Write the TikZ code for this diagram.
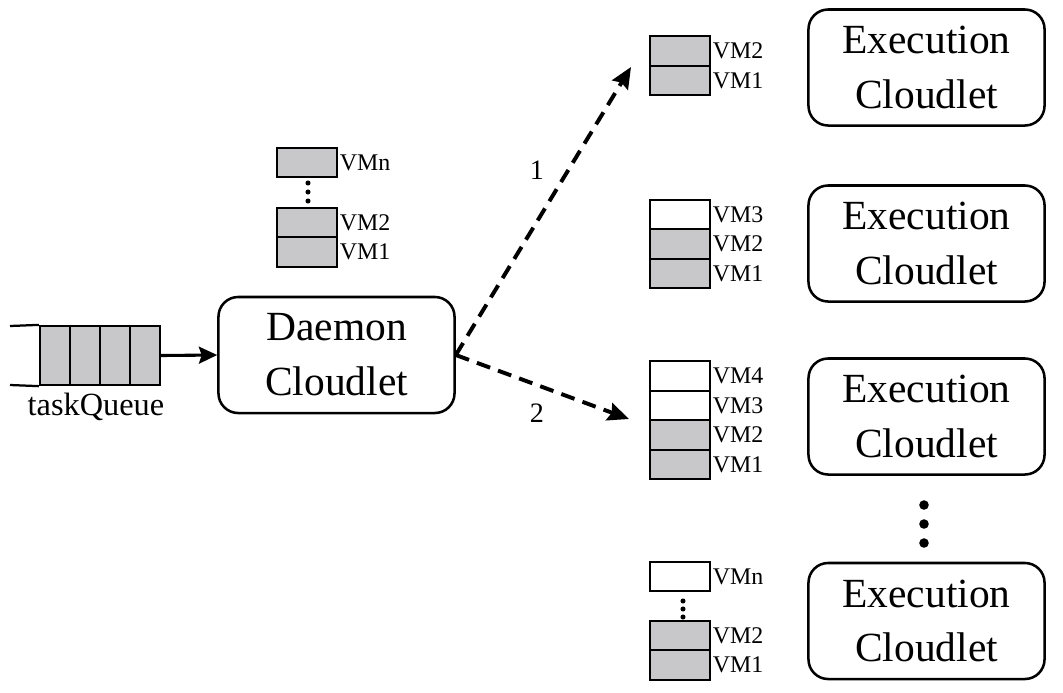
\documentclass[tikz,border=0pt]{standalone}
\usepackage{fontspec}
\setmainfont{Liberation Serif}
\usetikzlibrary{arrows.meta}
\definecolor{vmgray}{RGB}{200,200,202}

\begin{document}
\begin{tikzpicture}[x=0.025cm,y=-0.025cm,
  cloudlet/.style={draw, line width=1.8pt, rounded corners=14pt, minimum width=5.9cm, minimum height=2.9cm, align=center, font=\fontsize{29.5}{39}\selectfont},
  vmbox/.style={draw, line width=1.6pt, fill=vmgray, minimum width=1.5cm, minimum height=0.74cm, inner sep=0pt},
  vmfree/.style={vmbox, fill=white},
  vmtext/.style={font=\fontsize{17}{20}\selectfont, inner sep=1pt},
  cell/.style={draw, line width=1.6pt, fill=vmgray, minimum width=0.75cm, minimum height=1.475cm, inner sep=0pt},
  dispatch/.style={line width=2.8pt, dash pattern=on 10pt off 6pt, -{Stealth[length=15pt,width=13pt,inset=2pt]}}
]
\useasboundingbox (0,0) rectangle (1063,692);
% Task queue
\node[cell] (q1) at (55,355.5) {};
\node[cell] (q2) at (85,355.5) {};
\node[cell] (q3) at (115,355.5) {};
\node[cell] (q4) at (145,355.5) {};
\coordinate (qin1) at (10,326);
\coordinate (qin2) at (10,385);
\draw[line width=1.6pt] (qin1) -- (q1.north west);
\draw[line width=1.6pt] (qin2) -- (q1.south west);
\node[font=\fontsize{23}{28}\selectfont] (qlabel) at (96,407) {taskQueue};
% Daemon cloudlet and its VMs
\node[cloudlet] (daemon) at (336.5,355) {Daemon\\Cloudlet};
\draw[line width=2.2pt, -{Stealth[length=13pt,width=12pt,inset=2pt]}] (q4.east) -- (daemon.west);
\node[vmbox, label={[vmtext]right:VMn}] (d0) at (307,162.5) {};
\node[vmbox, label={[vmtext]right:VM2}] (d2) at (307,222.5) {};
\node[vmbox, label={[vmtext]right:VM1}] (d1) at (307,252) {};
\fill (308,183) circle (1.8pt) (308,192) circle (1.8pt) (308,201) circle (1.8pt);
% Execution cloudlets
\node[cloudlet] (exec1) at (926.5,67.5) {Execution\\Cloudlet};
\node[cloudlet] (exec2) at (926.5,243.5) {Execution\\Cloudlet};
\node[cloudlet] (exec3) at (926.5,416.5) {Execution\\Cloudlet};
\node[cloudlet] (exec4) at (926.5,621) {Execution\\Cloudlet};
\fill (924,505) circle (3.4pt) (924,524) circle (3.4pt) (924,543) circle (3.4pt);
% VMs of each execution cloudlet
\node[vmbox, label={[vmtext]right:VM2}] (a2) at (680,51) {};
\node[vmbox, label={[vmtext]right:VM1}] (a1) at (680,80.5) {};
\node[vmfree, label={[vmtext]right:VM3}] (b3) at (680,214.5) {};
\node[vmbox, label={[vmtext]right:VM2}] (b2) at (680,244) {};
\node[vmbox, label={[vmtext]right:VM1}] (b1) at (680,273.5) {};
\node[vmfree, label={[vmtext]right:VM4}] (c4) at (680,376) {};
\node[vmfree, label={[vmtext]right:VM3}] (c3) at (680,405.5) {};
\node[vmbox, label={[vmtext]right:VM2}] (c2) at (680,435) {};
\node[vmbox, label={[vmtext]right:VM1}] (c1) at (680,464.5) {};
\node[vmfree, label={[vmtext]right:VMn}] (e0) at (680,576.5) {};
\node[vmbox, label={[vmtext]right:VM2}] (e2) at (680,635.5) {};
\node[vmbox, label={[vmtext]right:VM1}] (e1) at (680,665) {};
\fill (683,601) circle (1.8pt) (683,609) circle (1.8pt) (683,617) circle (1.8pt);
% Dispatch arrows
\coordinate (tip1) at (631,67);
\coordinate (tip2) at (629,419);
\draw[dispatch] (daemon.east) -- (tip1);
\draw[dispatch] (daemon.east) -- (tip2);
\node[font=\fontsize{20}{24}\selectfont] (lbl1) at (537,170) {1};
\node[font=\fontsize{20}{24}\selectfont] (lbl2) at (537,413) {2};
\end{tikzpicture}
\end{document}
